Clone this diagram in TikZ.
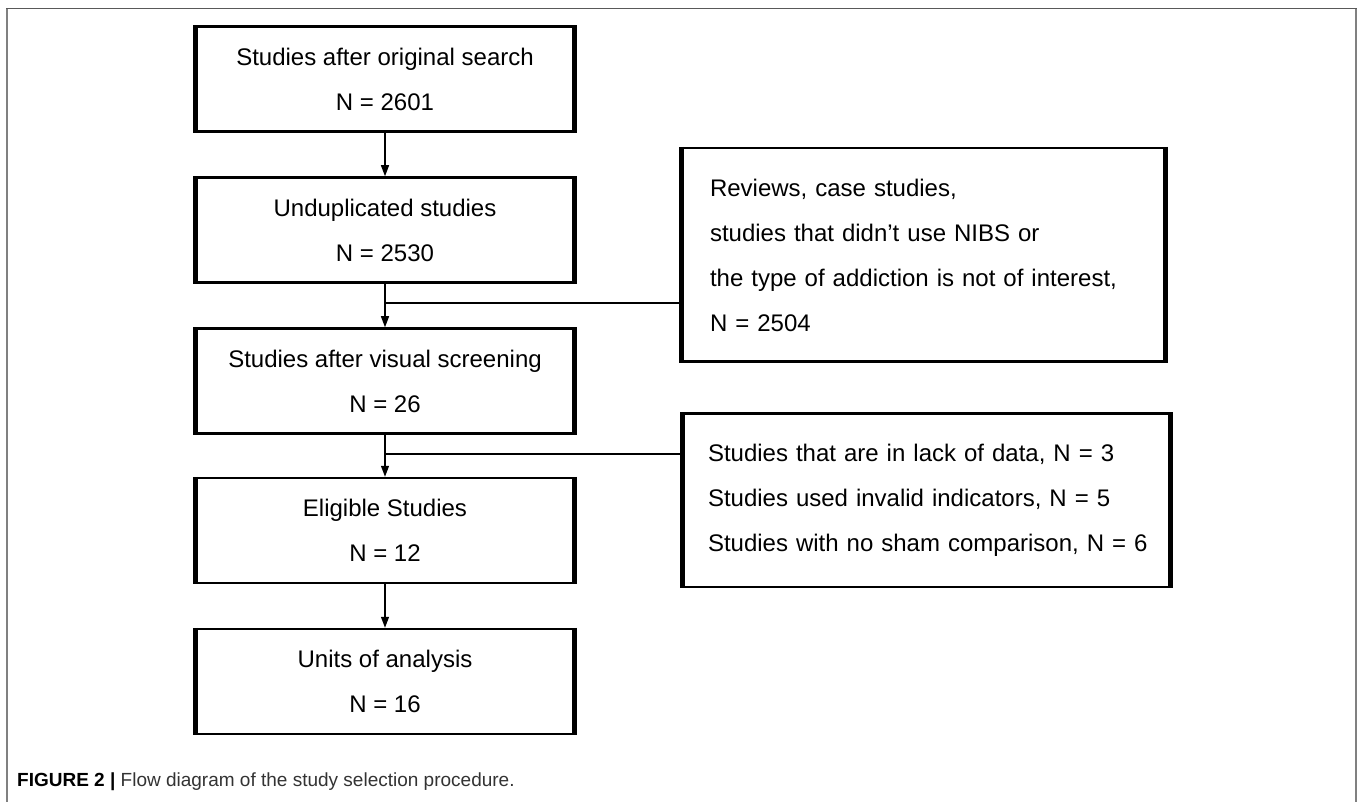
\documentclass[tikz,border=0pt]{standalone}
\usepackage{fontspec}
\setmainfont{Liberation Sans}
\usetikzlibrary{arrows.meta}
\begin{document}
\begin{tikzpicture}[x=1pt,y=-1pt,
  mainbox/.style={draw, line width=2.5pt, minimum width=377pt, minimum height=105pt,
    inner sep=0pt, align=center, font=\fontsize{24}{45}\selectfont},
  sidebox/.style={draw, line width=2.5pt, inner ysep=0pt, align=left,
    font=\fontsize{24}{45}\selectfont},
  conn/.style={line width=1.3pt},
  arr/.style={conn, -{Triangle[length=11pt,width=8pt]}},
  frameline/.style={line width=1.5pt, draw=black!50}
]
\useasboundingbox (0,0) rectangle (1358,802);
\fill[white] (0,0) rectangle (1358,802);
% frame
\draw[frameline] (7,802) -- (7,8.5);
\draw[frameline] (1356,802) -- (1356,8.5);
\draw[line width=1.5pt, draw=black!65] (6.25,8.5) -- (1356.75,8.5);

% main boxes
\node[mainbox] (b1) at (385,79) {Studies after original search\\N = 2601};
\node[mainbox] (b2) at (385,230) {Unduplicated studies\\N = 2530};
\node[mainbox] (b3) at (385,381) {Studies after visual screening\\N = 26};
\node[mainbox] (b4) at (385,530.5) {Eligible Studies\\N = 12};
\node[mainbox] (b5) at (385,681.5) {Units of analysis\\N = 16};

% side boxes
\node[sidebox, minimum width=482pt, minimum height=213.5pt, inner xsep=27.5pt, text width=427pt]
  (ra) at (923.5,255) {Reviews, case studies,\\studies that didn't use NIBS or\\the type of addiction is not of interest,\\N = 2504};
\node[sidebox, minimum width=486pt, minimum height=173.5pt, inner xsep=24.5pt, text width=437pt]
  (rb) at (926.5,500) {Studies that are in lack of data, N = 3\\Studies used invalid indicators, N = 5\\\mbox{Studies with no sham comparison, N = 6}};

% thick vertical sides
\foreach \n in {b1,b2,b3,b4,b5,ra,rb}{
  \draw[line width=5pt] (\n.north west) -- (\n.south west);
  \draw[line width=5pt] (\n.north east) -- (\n.south east);
}

% connectors
\coordinate (j1) at (385,303);
\coordinate (j2) at (385,454);
\draw[arr] (b1.south) -- (b2.north);
\draw[arr] (b2.south) -- (b3.north);
\draw[arr] (b3.south) -- (b4.north);
\draw[arr] (b4.south) -- (b5.north);
\draw[conn] (j1) -- (j1 -| ra.west);
\draw[conn] (j2) -- (j2 -| rb.west);

% caption
\node[anchor=west, inner sep=0pt] (cap) at (17,782)
  {\fontsize{19}{22}\selectfont\textbf{FIGURE 2 |} \color{black!80}Flow diagram of the study selection procedure.};
\end{tikzpicture}
\end{document}
